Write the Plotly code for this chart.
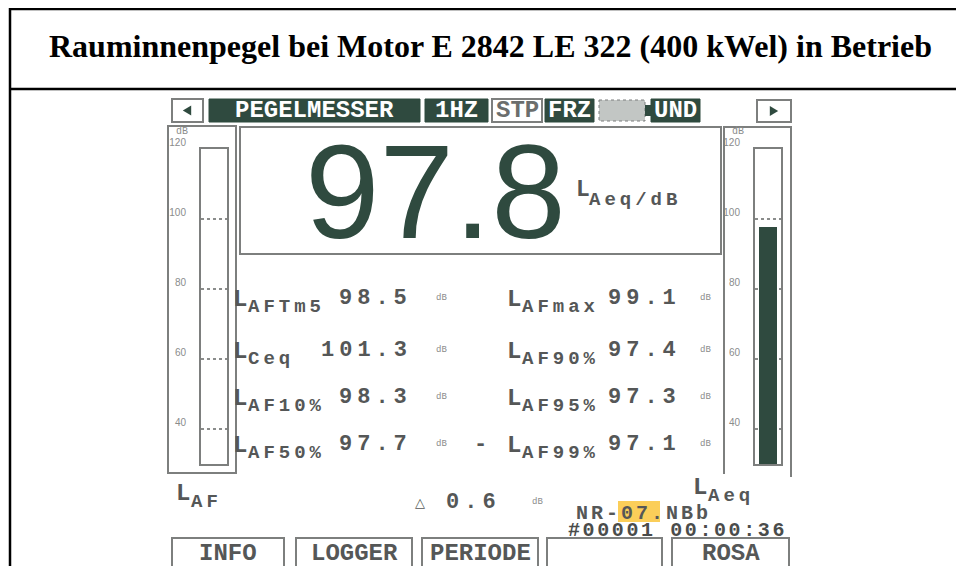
import plotly.graph_objects as go

# ---------------- data ----------------
title_text = "Rauminnenpegel bei Motor E 2842 LE 322 (400 kWel) in Betrieb"
status_items = ["PEGELMESSER", "1HZ", "STP", "FRZ", "", "UND"]
main_value = 97.8
main_unit = "Aeq/dB"
left_labels = ["AFTm5", "Ceq", "AF10%", "AF50%"]
left_values = [98.5, 101.3, 98.3, 97.7]
right_labels = ["AFmax", "AF90%", "AF95%", "AF99%"]
right_values = [99.1, 97.4, 97.3, 97.1]
meter_names = ["AF", "Aeq"]
meter_values = [None, 97.8]
scale_ticks = [40, 60, 80, 100, 120]
scale_range = [30, 120]
delta_value = 0.6
file_parts = ["NR-", "07", ".NBb"]
record_text = "#00001 00:00:36"
softkeys = ["INFO", "LOGGER", "PERIODE", "", "ROSA"]

# ---------------- styling ----------------
W, H = 964, 566
OFF = 8          # page body margin: the figure starts 8px in from the window corner
DARK = "#2f4a3f"
GREY = "#7d7f7e"
TXT = "#555757"
MONO = "Liberation Mono"
SANS = "Liberation Sans"
SERIF = "Liberation Serif"


def px(x):
    return (x - OFF) / W


def py(y):
    return 1 - (y - OFF) / H


shapes = []
annotations = []


def rect(x0, y0, x1, y1, color=GREY, width=2, fill=None, dash=None):
    line = dict(color=color, width=width)
    if dash:
        line["dash"] = dash
    if width == 0:
        line = dict(width=0)
    shapes.append(dict(type="rect", xref="paper", yref="paper",
                       x0=px(x0), x1=px(x1), y0=py(y0), y1=py(y1),
                       line=line, fillcolor=fill or "rgba(0,0,0,0)", layer="below"))


def line(x0, y0, x1, y1, color="#000", width=2):
    shapes.append(dict(type="line", xref="paper", yref="paper",
                       x0=px(x0), x1=px(x1), y0=py(y0), y1=py(y1),
                       line=dict(color=color, width=width)))


def tri(cx, cy, direction, size=7, color=DARK):
    if direction == "left":
        pts = [(cx + size * 0.6, cy - size * 0.7), (cx - size * 0.6, cy), (cx + size * 0.6, cy + size * 0.7)]
    else:
        pts = [(cx - size * 0.6, cy - size * 0.7), (cx + size * 0.6, cy), (cx - size * 0.6, cy + size * 0.7)]
    path = "M " + " L ".join(f"{px(a)},{py(b)}" for a, b in pts) + " Z"
    shapes.append(dict(type="path", xref="paper", yref="paper", path=path,
                       fillcolor=color, line=dict(width=0)))


def text(x, y, s, size, color=TXT, xanchor="center", family=MONO, bold=True, ls=None):
    if ls:
        s = f'<span style="letter-spacing:{ls}px">{s}</span>'
    annotations.append(dict(x=px(x), y=py(y), xref="paper", yref="paper", text=s,
                            showarrow=False, xanchor=xanchor, yanchor="middle",
                            borderpad=0,
                            font=dict(family=family, size=size, color=color,
                                      weight="bold" if bold else "normal")))


# ---------------- frame + title ----------------
line(9, 9, 970, 9, width=2.5)
line(9, 89, 970, 89, width=2.5)
line(10, 8, 10, 580, width=2.5)
line(963.5, 8, 963.5, 580, width=2)
text(490, 46, title_text, 32, color="#000", family=SERIF)

# ---------------- status bar ----------------
rect(172, 99, 203, 122)
tri(187, 110.5, "left")
rect(757, 100, 791, 122)
tri(774, 111, "right")
status_boxes = [(209, 420, "dark"), (425, 488, "dark"), (492, 542, "light"),
                (545, 594, "dark"), (599, 645, "hatch"), (651, 700, "dark")]
for (x0, x1, kind), label in zip(status_boxes, status_items):
    if kind == "dark":
        rect(x0, 99, x1, 122, color=DARK, width=1, fill=DARK)
        text((x0 + x1) / 2, 111, label, 24, color="#ffffff")
    elif kind == "light":
        rect(x0, 99, x1, 122, color=GREY, width=2)
        text((x0 + x1) / 2, 111, label, 24, color="#6b6e6d")
    else:
        rect(x0, 100, x1, 121, color=GREY, width=1, fill="#c2c6c4", dash="dot")
        rect(x1, 105, x1 + 6, 116, color=DARK, width=0, fill=DARK)

# ---------------- panels ----------------
rect(168, 126, 236, 473)               # left meter panel
rect(240, 127, 721, 254)               # main value box
line(724, 127, 791, 127, color=GREY)   # right meter panel (open bottom)
line(724, 126, 724, 474, color=GREY)
line(791, 126, 791, 477, color=GREY)

# main value
text(435, 191, f"{main_value:.1f}", 134, color=DARK, family=SANS, bold=False)
text(575, 190, "L", 23, color=TXT, xanchor="left")
text(588, 200, main_unit, 19, color=TXT, xanchor="left", ls=4)

# readouts
row_y = [298, 350, 397, 444]
for yy, lab, val in zip(row_y, left_labels, left_values):
    text(232, yy + 1, "L", 24, xanchor="left")
    text(247, yy + 9, lab, 19, xanchor="left", ls=4)
    text(413, yy, f"{val:.1f}", 22, xanchor="right", ls=5)
    text(441, yy, "dB", 9, color="#8a8c8b", bold=False)
for yy, lab, val in zip(row_y, right_labels, right_values):
    text(506, yy + 1, "L", 24, xanchor="left")
    text(521, yy + 9, lab, 19, xanchor="left", ls=4)
    text(682, yy, f"{val:.1f}", 22, xanchor="right", ls=5)
    text(705, yy, "dB", 9, color="#8a8c8b", bold=False)
text(480, row_y[-1], "-", 22)

# meter scale unit labels
text(182, 131, "dB", 10, color="#8a8c8b", bold=False)
text(738, 131, "dB", 10, color="#8a8c8b", bold=False)

# bottom info
text(175, 493, "L", 24, xanchor="left")
text(190, 502, meter_names[0], 19, xanchor="left", ls=4)
text(692, 487, "L", 24, xanchor="left")
text(707, 496, meter_names[1], 19, xanchor="left", ls=4)
text(420, 502, "△", 13, color=TXT, family="DejaVu Sans")
text(502, 502, f"{delta_value:.1f}", 22, xanchor="right", ls=5)
text(537, 502, "dB", 9, color="#8a8c8b", bold=False)

rect(618, 501, 660, 522, width=0, fill="rgba(250,198,60,0.85)")
text(575, 513, "".join(file_parts), 20, xanchor="left", ls=3)
text(567, 530, record_text, 20, color="#4a4c4b", xanchor="left", ls=2.6)

# softkeys
key_boxes = [(172, 284), (296, 412), (422, 538), (547, 662), (672, 789)]
for (x0, x1), key in zip(key_boxes, softkeys):
    rect(x0, 538, x1, 580)
    if key:
        text((x0 + x1) / 2, 553, key, 24, color=TXT)

# ---------------- meter bars (real axes) ----------------
fig = go.Figure()
bar_y0, bar_y1 = 149, 464
meter_x = [(201, 227), (755, 781)]
axis_common = dict(range=scale_range, tickvals=scale_ticks,
                   ticktext=[str(t) for t in scale_ticks],
                   ticks="", ticklabelposition="outside top", ticklabelstandoff=11,
                   tickfont=dict(family=SANS, size=10, color="#8a8c8b"),
                   showgrid=True, gridcolor="#8a8c8b", gridwidth=2, griddash="dot",
                   showline=True, mirror=True, linecolor=GREY, linewidth=2,
                   zeroline=False, fixedrange=True, automargin=False)
layout_axes = {}
for i, ((x0, x1), name, val) in enumerate(zip(meter_x, meter_names, meter_values)):
    n = "" if i == 0 else str(i + 1)
    xa, ya = "x" + n, "y" + n
    fig.add_trace(go.Bar(x=[0], y=[val], width=0.7, marker=dict(color=DARK, line=dict(width=0)),
                         xaxis=xa, yaxis=ya, showlegend=False, hoverinfo="skip", name="L" + name))
    layout_axes["xaxis" + n] = dict(domain=[px(x0), px(x1)], range=[-0.5, 0.5], anchor=ya,
                                    showticklabels=False, showgrid=False, zeroline=False,
                                    showline=True, mirror=True, linecolor=GREY, linewidth=2,
                                    fixedrange=True, automargin=False)
    layout_axes["yaxis" + n] = dict(domain=[py(bar_y1), py(bar_y0)], anchor=xa, **axis_common)

fig.update_layout(
    width=W, height=H, autosize=False,
    margin=dict(l=0, r=0, t=0, b=0, autoexpand=False),
    paper_bgcolor="#ffffff", plot_bgcolor="#ffffff",
    shapes=shapes, annotations=annotations, bargap=0,
    **layout_axes,
)
fig.write_html("out.html")
